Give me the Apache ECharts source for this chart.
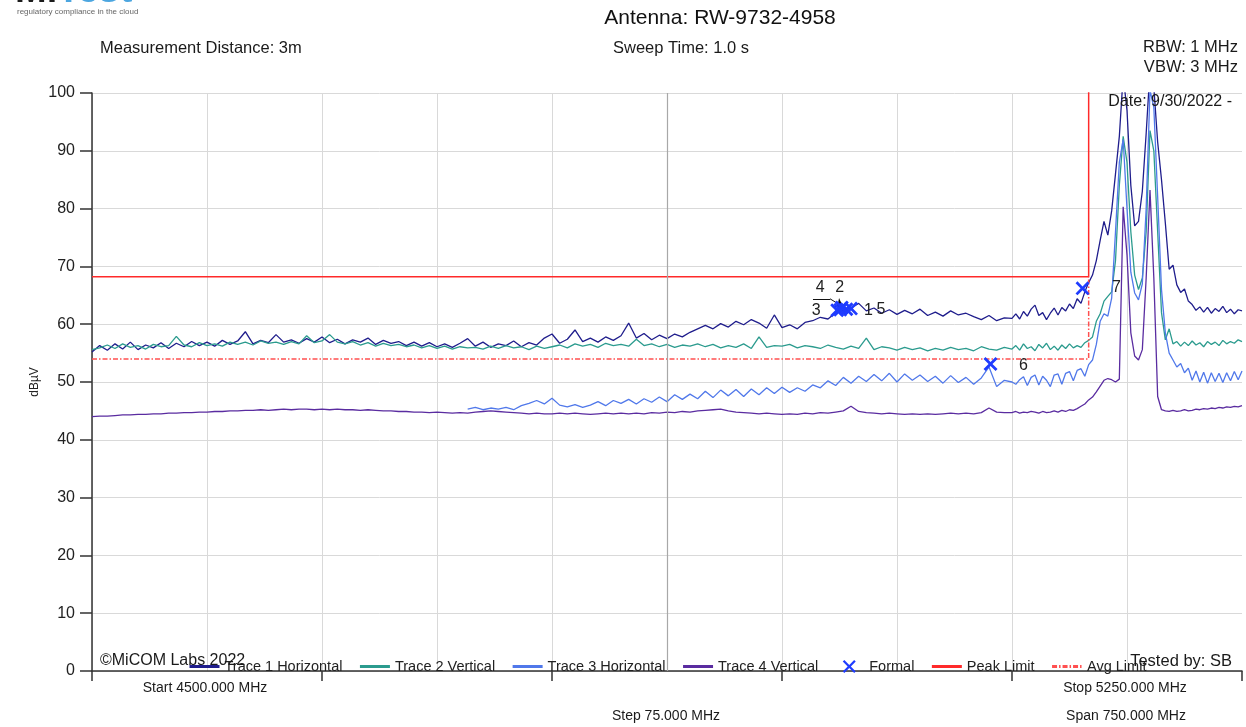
<!DOCTYPE html>
<html>
<head>
<meta charset="utf-8">
<title>Radiated emissions 4500-5250 MHz</title>
<script src="https://cdn.jsdelivr.net/npm/echarts@6/dist/echarts.min.js"></script>
<style>
  html, body { margin: 0; padding: 0; background: #fff; }
  #chart { width: 1246px; height: 727px; }
</style>
</head>
<body>
<div id="chart"></div>
<script>
// sweep sampling: 5 MHz below 5100, 2.5 MHz across the band edge
const coarseFreqs = [];
for (let f = 4500; f < 5100; f += 5) coarseFreqs.push(f);
const fineFreqs = [];
for (let f = 5100; f <= 5250; f += 2.5) fineFreqs.push(f);

// Trace 1 Horizontal (dBuV)
const trace1Lo = [
  55.2, 56.3, 55.5, 56.6, 55.7, 56.9, 55.6, 56.4, 55.9, 56.8,
  55.8, 56.7, 56.1, 57.0, 56.3, 56.9, 56.2, 57.2, 56.5, 57.1,
  58.7, 56.6, 57.2, 56.8, 58.2, 56.9, 57.3, 56.7, 57.5, 56.9,
  57.8, 56.8, 57.4, 56.6, 57.3, 56.9, 57.6, 56.5, 57.2, 56.7,
  57.0, 56.3, 56.9, 56.2, 56.8, 56.1, 56.6, 56.0, 56.7, 57.5,
  56.2, 56.9, 56.0, 56.6, 56.3, 57.1, 56.1, 56.8, 56.4, 57.6,
  58.3, 56.7, 57.4, 59.0, 57.0, 57.6, 56.9, 57.8, 57.2, 58.0,
  60.2, 57.6, 58.4, 57.3, 58.1, 57.5, 58.3, 57.8, 58.6, 59.2,
  59.8, 59.2, 60.1, 59.5, 60.5, 59.9, 60.8, 60.2, 59.3, 61.6,
  59.4, 59.9, 59.2, 60.3, 60.6, 61.2, 60.9, 62.0, 62.4, 62.8,
  63.6, 62.3, 62.8, 61.9, 62.5, 61.7, 62.4, 61.8, 62.6, 61.5,
  62.1, 61.4, 62.3, 61.6, 61.9, 61.3, 60.8, 61.5, 60.6, 61.1
];
const trace1Hi = [
  61.0, 61.8, 60.9, 62.2, 61.4, 62.6, 63.3, 61.5, 62.0, 60.8,
  61.9, 62.8, 61.6, 62.9, 62.3, 63.5, 62.7, 64.4, 63.6, 65.6,
  67.2, 68.5, 71.0, 74.5, 77.8, 75.4, 79.6, 86.0, 92.5, 103,
  97.0, 84.0, 77.0, 77.8, 83.0, 93.0, 104, 101, 91.5, 85.0,
  77.5, 69.5, 70.2, 66.8, 65.5, 66.1, 64.0, 63.4, 62.4, 63.0,
  62.1, 62.9, 61.9, 62.7, 62.2, 63.1, 62.0, 62.6, 61.8, 62.5,
  62.3
];

// Trace 2 Vertical
const trace2Lo = [
  55.6, 55.9, 56.4, 55.8, 56.6, 56.0, 56.3, 55.7, 56.5, 56.1,
  56.3, 57.9, 56.4, 56.1, 56.8, 56.3, 56.6, 56.2, 56.9, 56.5,
  56.9, 56.4, 57.1, 56.7, 56.9, 56.5, 57.0, 56.6, 58.0, 56.8,
  57.1, 58.2, 56.9, 56.6, 57.0, 56.4, 56.8, 56.2, 56.7, 56.3,
  56.5, 56.1, 56.4, 55.9, 56.3, 55.8, 56.2, 55.7, 56.1, 55.9,
  56.0, 55.7, 56.2, 55.8, 56.3, 55.9, 56.1, 55.6, 56.2, 55.8,
  56.1, 56.4, 55.9, 56.6, 56.2, 56.5, 56.0, 56.7, 56.3, 56.5,
  56.2, 57.4, 56.3, 56.6, 56.1, 56.5, 56.0, 56.4, 56.2, 56.6,
  56.1, 56.5, 55.9, 56.3, 56.0, 56.6, 55.8, 57.8, 56.0, 56.3,
  56.2, 56.5, 55.9, 56.3, 56.1, 55.8, 56.4, 56.0, 55.7, 56.2,
  55.8, 57.6, 55.6, 56.1, 55.9, 55.5, 56.0, 55.6, 55.9, 55.4,
  55.8, 55.5, 56.0, 55.6, 55.8, 55.4, 56.1, 55.7, 55.5, 56.0
];
const trace2Hi = [
  55.7, 56.3, 55.5, 56.6, 55.8, 56.1, 55.4, 56.5, 55.9, 56.7,
  55.6, 56.2, 55.5, 56.4, 55.8, 56.6, 55.9, 56.3, 56.0, 56.8,
  57.2, 57.8, 60.5, 61.8, 64.0, 64.8, 65.6, 71.0, 84.0, 92.5,
  88.0, 76.0, 68.5, 66.0, 68.0, 76.0, 93.5, 90.0, 76.0, 62.0,
  57.3, 59.2, 56.6, 57.0, 56.2, 56.9, 56.3, 57.1, 56.4, 56.8,
  56.1, 57.0, 56.5, 56.9, 56.3, 57.2, 56.6, 57.0, 56.7, 57.3,
  57.0
];

// Trace 3 Horizontal, starts at 4745 MHz (below that it sits under trace 4)
const trace3Start = 4745;
const trace3Lo = [
  45.3,
  45.6, 45.2, 45.5, 45.3, 45.6, 45.2, 45.9, 46.3, 46.8, 46.2,
  47.2, 46.0, 45.7, 46.1, 45.6, 46.0, 46.6, 45.9, 46.8, 46.3,
  47.0, 46.2, 47.1, 46.5, 47.4, 46.6, 47.8, 47.0, 47.9, 47.1,
  48.4, 47.3, 48.6, 47.6, 48.7, 47.5, 48.8, 47.8, 49.0, 48.0,
  49.1, 48.2, 49.0, 48.4, 49.5, 49.0, 50.2, 49.4, 50.8, 49.8,
  51.0, 50.1, 51.3, 50.2, 51.5, 50.0, 51.4, 50.3, 51.2, 50.1,
  51.0, 49.8, 51.1, 49.9, 50.8, 49.6, 50.7, 52.6, 49.2, 50.3
];
const trace3Hi = [
  50.0, 49.6, 50.4, 50.9, 49.4, 50.8, 51.2, 49.5, 51.0, 50.3,
  49.2, 51.2, 51.4, 49.6, 51.5, 51.8, 50.2, 52.0, 52.3, 51.0,
  53.0, 53.8, 56.5, 60.5, 61.8, 61.4, 64.5, 76.0, 88.0, 92.0,
  80.0, 69.0, 65.4, 64.2, 67.0, 80.0, 100.5, 97.5, 82.0, 66.0,
  58.5, 55.0, 53.8, 52.6, 53.2, 51.6, 52.4, 50.3, 51.9, 50.0,
  51.7, 49.8, 51.6, 50.1, 51.5, 49.9, 51.6, 50.2, 51.8, 50.4,
  51.9
];

// Trace 4 Vertical
const trace4Lo = [
  44.0, 44.1, 44.1, 44.2, 44.3, 44.3, 44.4, 44.4, 44.5, 44.5,
  44.6, 44.6, 44.7, 44.7, 44.8, 44.8, 44.9, 44.9, 45.0, 45.0,
  45.1, 45.1, 45.2, 45.1, 45.2, 45.3, 45.2, 45.3, 45.3, 45.2,
  45.3, 45.2, 45.3, 45.2, 45.2, 45.1, 45.2, 45.1, 45.0, 45.0,
  44.9, 44.9, 44.8, 44.8, 44.7, 44.8, 44.7, 44.6, 44.7, 44.6,
  44.8, 44.9, 45.0, 44.9, 44.8, 44.7, 44.6, 44.5, 44.6, 44.5,
  44.5, 44.6, 44.5, 44.6, 44.5, 44.4, 44.5, 44.6, 44.5, 44.6,
  44.5, 44.6, 44.5, 44.7, 44.6, 44.8, 44.7, 44.9, 44.8, 45.0,
  45.1, 45.2, 45.3, 45.0, 44.8, 44.7, 44.6, 44.5, 44.6, 44.5,
  44.4, 44.5, 44.4, 44.6, 44.5, 44.7, 44.6, 44.8, 45.0, 45.8,
  44.9, 44.7, 44.6, 44.5, 44.6, 44.5, 44.4, 44.5, 44.4, 44.5,
  44.4, 44.5, 44.6, 44.5, 44.6, 44.5, 44.7, 45.5, 44.8, 44.7
];
const trace4Hi = [
  44.7, 44.9, 44.6, 44.8, 44.7, 44.9, 44.8, 44.6, 44.9, 44.7,
  44.8, 45.0, 44.8, 45.1, 44.9, 45.2, 45.1, 45.4, 45.8, 46.2,
  46.9, 47.4, 48.3, 49.3, 50.3, 50.6, 50.4, 50.0, 50.5, 80.3,
  72.0, 58.5, 54.5, 53.8, 55.6, 68.0, 83.2, 68.0, 47.5, 45.2,
  45.0, 44.9, 45.1, 44.9, 45.0, 45.2, 45.0, 45.1, 45.3, 45.2,
  45.4, 45.3, 45.5, 45.4, 45.6, 45.5, 45.7, 45.6, 45.8, 45.7,
  45.9
];

// formal markers
const markerNames = ['1', '2', '3', '4', '5', '6', '7'];
const markerFreqs = [4992, 4989, 4986, 4988, 4995, 5086, 5146];
const markerLevels = [62.6, 62.9, 62.4, 62.5, 62.7, 53.1, 66.2];

// limits
const limitFreqs = [4500, 5150, 5150];
const peakLimit = [68.2, 68.2, 110];
const avgLimit = [54.0, 54.0, 68.2];

const yTicks = [0, 10, 20, 30, 40, 50, 60, 70, 80, 90, 100];

const FONT = '"Liberation Sans", Arial, sans-serif';
const pairs = (freqs, vals) => vals.map((v, i) => [freqs[i], v]);

const chartInstance = echarts.init(document.getElementById('chart'), null, { renderer: 'canvas' });

// label offsets (px) of the marker numbers, same order as markerNames
const markerLabelOffsets = [[22, 1], [-2, -20], [-21, 0], [-20, -22], [30, 1], [33, 2], [34, -1]];
const markerData = markerNames.map((n, i) => ({
  value: [markerFreqs[i], markerLevels[i]],
  label: { formatter: n, offset: markerLabelOffsets[i] }
}));

const X_ICON = 'path://M0,1.4L1.4,0L5,3.6L8.6,0L10,1.4L6.4,5L10,8.6L8.6,10L5,6.4L1.4,10L0,8.6L3.6,5Z';
// same cross, centred in a 30x14 legend box (the two tiny dots only pin the box)
const X_LEGEND = 'path://M0,7L0.01,7Z M30,7L29.99,7Z ' +
  'M8.5,1.6L10.1,0L15,4.9L19.9,0L21.5,1.6L16.6,6.5L21.5,11.4L19.9,13L15,8.1L10.1,13L8.5,11.4L13.4,6.5Z';

function txt(text, x, y, size, align, color) {
  return {
    type: 'text', x: x, y: y, silent: true, z: 100,
    style: {
      text: text, fill: color || '#1a1a1a',
      font: size + 'px ' + FONT,
      align: align || 'left', verticalAlign: 'middle'
    }
  };
}

function traceSeries(name, data, color) {
  return {
    name: name, type: 'line', data: data,
    symbol: 'none', clip: true,
    lineStyle: { width: 1.3, color: color },
    itemStyle: { color: color }
  };
}

const option = {
  animation: false,
  backgroundColor: '#fff',
  textStyle: { fontFamily: FONT },
  grid: { left: 92, right: 4, top: 93, bottom: 56, containLabel: false },
  legend: {
    left: 183, top: 654,
    itemWidth: 30, itemHeight: 14, itemGap: 16,
    textStyle: { fontSize: 14.5, color: '#222', fontFamily: FONT },
    lineStyle: { width: 3 },
    itemStyle: { opacity: 0 }, // hide the symbol dot on line icons
    data: [
      'Trace 1 Horizontal', 'Trace 2 Vertical', 'Trace 3 Horizontal', 'Trace 4 Vertical',
      { name: 'Formal', icon: X_LEGEND, itemStyle: { opacity: 1 } },
      'Peak Limit', 'Avg Limit'
    ]
  },
  xAxis: [
    { // grid lines every 75 MHz
      type: 'value', min: 4500, max: 5250, interval: 75, position: 'bottom',
      axisLine: { show: true, lineStyle: { color: '#333', width: 1.5 } },
      axisTick: { show: false },
      axisLabel: { show: false },
      splitLine: { show: true, showMaxLine: false, lineStyle: { color: '#d9d9d9', width: 1 } }
    },
    { // ticks every 150 MHz
      type: 'value', min: 4500, max: 5250, interval: 150, position: 'bottom',
      axisLine: { show: false },
      axisTick: { show: true, length: 10, lineStyle: { color: '#333', width: 1.5 } },
      axisLabel: { show: false },
      splitLine: { show: false }
    }
  ],
  yAxis: {
    type: 'value', min: yTicks[0], max: yTicks[yTicks.length - 1], interval: 10,
    name: 'dBµV', nameLocation: 'middle', nameGap: 51, nameRotate: 90,
    nameMoveOverlap: false,
    nameTextStyle: { fontSize: 12, color: '#222', fontFamily: FONT },
    axisLine: { show: true, lineStyle: { color: '#333', width: 1.5 } },
    axisTick: { show: true, length: 12, lineStyle: { color: '#333', width: 1.5 } },
    axisLabel: { fontSize: 16, color: '#222', margin: 17, fontFamily: FONT },
    splitLine: { show: true, lineStyle: { color: '#d9d9d9', width: 1 } }
  },
  series: [
    { // darker centre grid line
      name: 'centre', type: 'line', data: [], silent: true,
      markLine: {
        silent: true, symbol: ['none', 'none'], label: { show: false },
        lineStyle: { color: '#a8a8a8', type: 'solid', width: 1.2 },
        data: [{ xAxis: 4875 }]
      }
    },
    traceSeries('Trace 1 Horizontal', pairs(coarseFreqs, trace1Lo).concat(pairs(fineFreqs, trace1Hi)), '#1f1d8c'),
    traceSeries('Trace 2 Vertical', pairs(coarseFreqs, trace2Lo).concat(pairs(fineFreqs, trace2Hi)), '#2b9b8e'),
    traceSeries('Trace 3 Horizontal',
      pairs(coarseFreqs.filter(f => f >= trace3Start), trace3Lo).concat(pairs(fineFreqs, trace3Hi)), '#5078ea'),
    traceSeries('Trace 4 Vertical', pairs(coarseFreqs, trace4Lo).concat(pairs(fineFreqs, trace4Hi)), '#5a2ca0'),
    {
      name: 'Peak Limit', type: 'line', data: pairs(limitFreqs, peakLimit),
      symbol: 'none', clip: true,
      lineStyle: { color: '#ff2a2a', width: 1.5 }, itemStyle: { color: '#ff2a2a' }
    },
    {
      name: 'Avg Limit', type: 'line', data: pairs(limitFreqs, avgLimit),
      symbol: 'none', clip: true,
      lineStyle: { color: '#ff5050', width: 1.5, type: [5, 2, 1.5, 2] }, itemStyle: { color: '#ff3030' }
    },
    {
      name: 'Formal', type: 'scatter', data: markerData,
      symbol: X_ICON, symbolSize: 14, symbolKeepAspect: true, z: 10,
      itemStyle: { color: '#1f3cff', opacity: 1 },
      label: {
        show: true, position: 'inside', color: '#222', fontSize: 16, fontFamily: FONT
      },
      markLine: { // little arrow from the 3/4 labels into the cluster
        silent: true, symbol: ['none', 'none'], label: { show: false },
        lineStyle: { color: '#111', width: 1, type: 'solid' },
        data: [
          [{ coord: [4970.2, 64.4] }, { coord: [4981.3, 64.4] }],
          [{ coord: [4981.3, 64.4] }, { coord: [4989.8, 63.0], symbol: 'arrow', symbolSize: 8 }]
        ]
      }
    }
  ],
  graphic: [
    // logo (cut off at top edge)
    { type: 'text', x: 15, y: 11, silent: true,
      style: { text: 'Mi', fill: '#1b1b1b', font: 'bold 38px ' + FONT, verticalAlign: 'bottom' } },
    { type: 'text', x: 57, y: 11, silent: true,
      style: { text: 'Test', fill: '#4ca6e0', font: 'bold 38px ' + FONT, verticalAlign: 'bottom' } },
    txt('regulatory compliance in the cloud', 17, 12, 8, 'left', '#666'),
    txt('Antenna: RW-9732-4958', 720, 18, 21, 'center', '#111'),
    txt('Measurement Distance: 3m', 100, 48, 16.5),
    txt('Sweep Time: 1.0 s', 613, 48, 16.5),
    txt('RBW: 1 MHz', 1238, 47, 16.5, 'right'),
    txt('VBW: 3 MHz', 1238, 67, 16.5, 'right'),
    txt('Date: 9/30/2022 -', 1232, 102, 16, 'right'),
    txt('©MiCOM Labs 2022', 100, 661, 16),
    txt('Tested by: SB', 1232, 661, 16.5, 'right'),
    txt('Start 4500.000 MHz', 205, 688, 14, 'center'),
    txt('Stop 5250.000 MHz', 1125, 688, 14, 'center'),
    txt('Step 75.000 MHz', 666, 716, 14, 'center'),
    txt('Span 750.000 MHz', 1126, 716, 14, 'center')
  ]
};

chartInstance.setOption(option);
</script>
</body>
</html>
